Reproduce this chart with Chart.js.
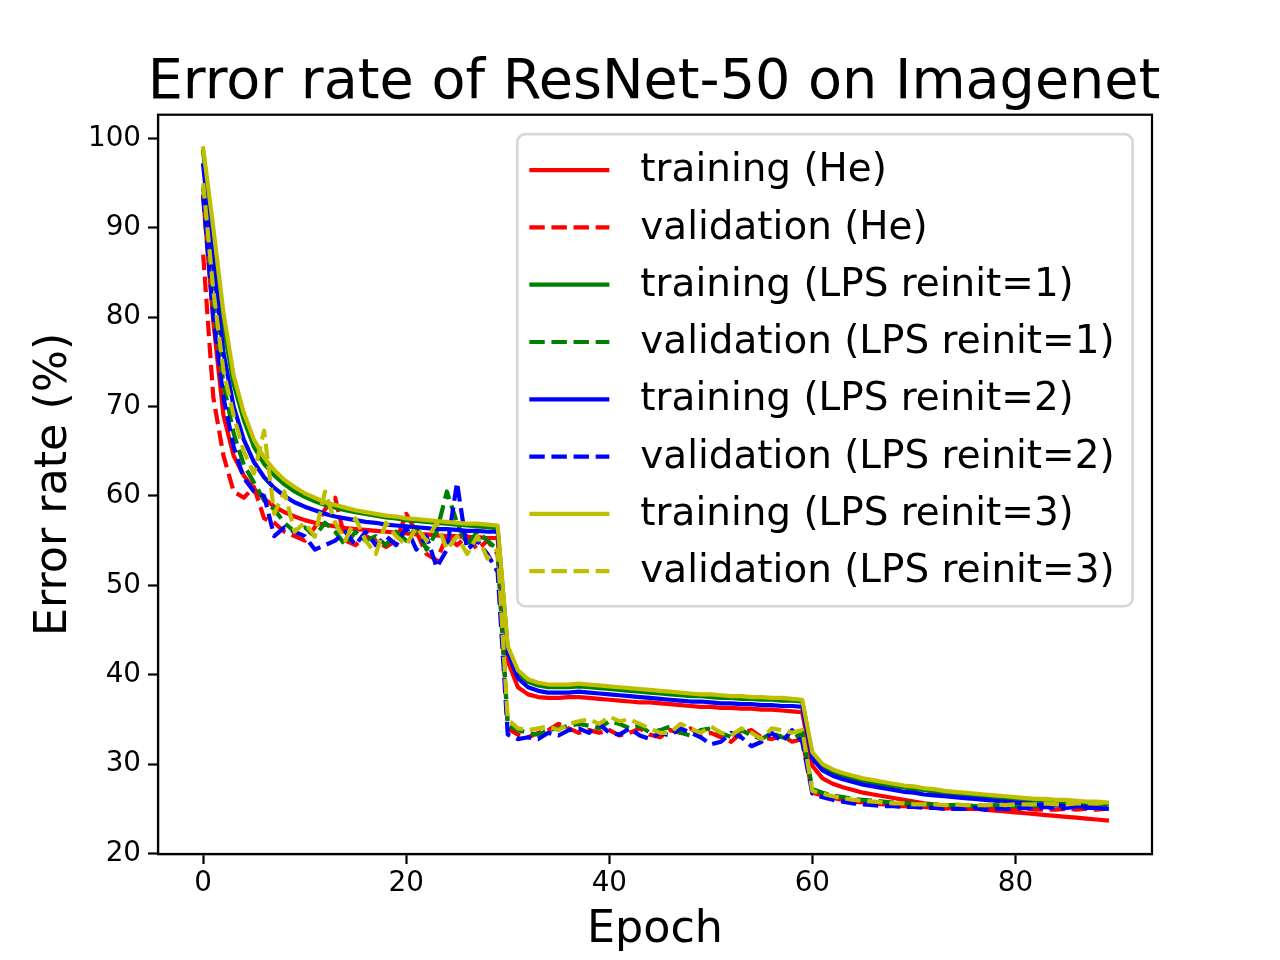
<!DOCTYPE html>
<html>
<head>
<meta charset="utf-8">
<script src="https://cdn.jsdelivr.net/npm/chart.js@4.4.1/dist/chart.umd.min.js"></script>
<style>
  html, body { margin: 0; padding: 0; background: #ffffff; }
  canvas { display: block; }
</style>
</head>
<body>
<canvas id="c" width="1280" height="960"></canvas>
<script>
// ---------- data ----------
const epochs = Array.from({length: 90}, (_, i) => i);
const xTicks = [0, 20, 40, 60, 80];
const yTicks = [20, 30, 40, 50, 60, 70, 80, 90, 100];

const seriesLabels = [
  'training (He)', 'validation (He)',
  'training (LPS reinit=1)', 'validation (LPS reinit=1)',
  'training (LPS reinit=2)', 'validation (LPS reinit=2)',
  'training (LPS reinit=3)', 'validation (LPS reinit=3)'
];

const trainHe = [93.5, 79.5, 69.0, 64.5, 62.3, 60.8, 59.7, 58.8, 58.2, 57.7,
  57.3, 57.0, 56.8, 56.6, 56.4, 56.3, 56.2, 56.1, 56.0, 55.9,
  55.8, 55.7, 55.7, 55.6, 55.5, 55.5, 55.4, 55.4, 55.3, 55.3,
  41.5, 38.6, 37.8, 37.5, 37.4, 37.4, 37.5, 37.5, 37.4, 37.3,
  37.2, 37.1, 37.0, 36.9, 36.9, 36.8, 36.7, 36.6, 36.5, 36.4,
  36.4, 36.3, 36.3, 36.2, 36.2, 36.1, 36.1, 36.0, 35.9, 35.8,
  29.8, 28.4, 27.8, 27.4, 27.1, 26.8, 26.6, 26.4, 26.2, 26.0,
  25.8, 25.6, 25.5, 25.3, 25.2, 25.1, 25.0, 24.9, 24.8, 24.7,
  24.6, 24.5, 24.4, 24.3, 24.2, 24.1, 24.0, 23.9, 23.8, 23.7];

const valHe = [87.0, 71.0, 64.5, 60.5, 59.8, 61.0, 57.5, 57.0, 56.0, 55.5,
  55.0, 56.5, 58.5, 59.8, 55.0, 54.5, 55.5, 55.0, 54.3, 55.0,
  58.0, 56.0, 53.5, 52.8, 55.5, 54.5, 55.5, 54.0, 55.0, 53.5,
  34.0, 33.3, 33.0, 33.5, 33.8, 34.5, 34.0, 33.5, 33.8, 33.5,
  33.8, 33.2, 33.5, 34.0, 33.3, 33.0, 33.8, 33.5, 34.0, 33.2,
  33.5, 33.0, 32.5, 33.5, 33.8, 33.0, 32.8, 33.2, 32.5, 32.8,
  26.8, 26.5, 26.2, 26.0, 25.8, 25.7, 25.6, 25.5, 25.3, 25.3,
  25.2, 25.2, 25.1, 25.0, 25.1, 25.0, 25.0, 24.9, 25.0, 24.9,
  24.9, 25.0, 24.9, 24.9, 24.9, 25.0, 24.9, 25.0, 24.9, 25.0];

const trainL1 = [98.5, 89.0, 79.0, 72.5, 68.5, 65.5, 63.6, 62.3, 61.3, 60.5,
  59.9, 59.4, 59.0, 58.7, 58.4, 58.2, 58.0, 57.8, 57.6, 57.5,
  57.3, 57.2, 57.1, 57.0, 56.9, 56.8, 56.7, 56.6, 56.5, 56.4,
  42.8, 40.2, 39.2, 38.8, 38.6, 38.6, 38.6, 38.7, 38.6, 38.5,
  38.4, 38.3, 38.2, 38.1, 38.0, 37.9, 37.8, 37.7, 37.6, 37.6,
  37.5, 37.4, 37.4, 37.3, 37.3, 37.2, 37.2, 37.1, 37.1, 37.0,
  31.0, 29.7, 29.1, 28.7, 28.4, 28.1, 27.9, 27.7, 27.5, 27.4,
  27.2, 27.1, 26.9, 26.8, 26.7, 26.6, 26.5, 26.4, 26.3, 26.2,
  26.1, 26.0, 26.0, 25.9, 25.8, 25.8, 25.7, 25.6, 25.6, 25.5];

const valL1 = [94.5, 82.0, 72.5, 67.0, 63.5, 61.5, 59.5, 58.5, 57.0, 56.0,
  56.5, 55.5, 57.0, 56.0, 54.5, 56.0, 55.0, 55.5, 54.5, 56.0,
  55.0, 56.5, 54.0, 56.0, 60.5, 57.0, 54.5, 56.0, 55.0, 54.0,
  34.3, 33.8, 33.5, 33.3, 33.8, 34.0, 34.3, 34.5, 34.3, 34.0,
  34.8, 34.5, 34.0, 34.3, 33.5, 33.8, 34.2, 33.5, 33.2, 33.8,
  34.0, 33.5, 33.0, 33.8, 33.2, 32.8, 33.5, 33.0, 32.8, 33.5,
  27.2, 26.8, 26.5, 26.3, 26.1, 26.0, 25.9, 25.8, 25.7, 25.6,
  25.6, 25.5, 25.5, 25.4, 25.4, 25.4, 25.3, 25.3, 25.4, 25.3,
  25.3, 25.4, 25.3, 25.4, 25.5, 25.4, 25.5, 25.4, 25.5, 25.5];

const trainL2 = [97.0, 86.0, 76.0, 70.0, 66.3, 63.8, 62.1, 60.9, 60.0, 59.3,
  58.8, 58.4, 58.0, 57.7, 57.5, 57.3, 57.1, 57.0, 56.8, 56.7,
  56.6, 56.5, 56.4, 56.3, 56.3, 56.2, 56.1, 56.1, 56.0, 56.0,
  42.5, 39.6, 38.6, 38.2, 38.0, 38.0, 38.0, 38.1, 38.0, 37.9,
  37.8, 37.7, 37.6, 37.5, 37.4, 37.3, 37.2, 37.1, 37.0, 37.0,
  36.9, 36.8, 36.8, 36.7, 36.7, 36.6, 36.6, 36.5, 36.5, 36.4,
  30.6, 29.3, 28.7, 28.3, 28.0, 27.7, 27.5, 27.3, 27.1, 26.9,
  26.8, 26.6, 26.5, 26.4, 26.3, 26.2, 26.1, 26.0, 25.9, 25.8,
  25.7, 25.6, 25.5, 25.5, 25.4, 25.3, 25.3, 25.2, 25.1, 25.0];

const valL2 = [93.5, 80.0, 71.0, 65.5, 62.0, 60.5, 60.0, 55.5, 56.5, 56.0,
  55.5, 54.0, 54.5, 55.0, 56.0, 54.5, 56.0, 54.5, 55.5, 54.5,
  56.5, 54.0, 55.5, 52.0, 54.0, 61.5, 54.0, 55.0, 53.5, 51.5,
  33.3, 32.8, 33.0, 32.8, 33.5, 33.2, 33.8, 34.0, 33.5, 34.5,
  33.5, 33.3, 34.0, 33.2, 32.8, 33.5, 33.2, 34.0, 33.5, 33.0,
  32.2, 32.5, 33.5, 33.0, 32.0, 32.5, 33.5, 32.5, 33.8, 32.5,
  26.7, 26.3, 26.0, 25.8, 25.6, 25.5, 25.4, 25.3, 25.3, 25.2,
  25.2, 25.1, 25.1, 25.0, 25.0, 25.0, 25.1, 24.9, 25.0, 25.0,
  25.0, 25.1, 25.0, 25.2, 25.0, 25.1, 25.2, 25.1, 25.1, 25.1];

const trainL3 = [98.9, 90.0, 80.5, 73.5, 69.3, 66.3, 64.3, 62.9, 61.8, 61.0,
  60.3, 59.8, 59.3, 59.0, 58.7, 58.4, 58.2, 58.0, 57.8, 57.7,
  57.5, 57.4, 57.3, 57.2, 57.1, 57.0, 56.9, 56.9, 56.8, 56.7,
  43.2, 40.5, 39.5, 39.1, 38.9, 38.9, 38.9, 39.0, 38.9, 38.8,
  38.7, 38.6, 38.5, 38.4, 38.3, 38.2, 38.1, 38.0, 37.9, 37.8,
  37.8, 37.7, 37.6, 37.6, 37.5, 37.5, 37.4, 37.4, 37.3, 37.2,
  31.3, 30.0, 29.4, 29.0, 28.7, 28.4, 28.2, 28.0, 27.8, 27.6,
  27.5, 27.3, 27.2, 27.0, 26.9, 26.8, 26.7, 26.6, 26.5, 26.4,
  26.3, 26.2, 26.1, 26.1, 26.0, 26.0, 25.9, 25.8, 25.8, 25.7];

const valL3 = [95.0, 83.0, 74.0, 69.0, 65.0, 62.5, 67.3, 58.0, 60.5, 56.0,
  57.0, 55.5, 60.5, 57.0, 55.0, 57.5, 55.0, 53.5, 57.0, 55.5,
  54.5, 56.5, 55.0, 57.0, 54.0, 55.5, 53.5, 55.5, 53.0, 54.0,
  35.0, 34.0, 33.8, 34.0, 34.2, 33.8, 34.5, 34.8, 35.0, 34.5,
  35.3, 34.8, 35.0, 34.5, 34.0, 33.5, 33.5, 34.5, 34.0, 33.5,
  34.2, 33.5, 33.2, 34.0, 33.5, 32.8, 34.0, 33.8, 33.5, 33.8,
  27.0, 26.7, 26.4, 26.2, 26.0, 25.9, 25.8, 25.7, 25.6, 25.6,
  25.5, 25.5, 25.5, 25.4, 25.5, 25.4, 25.4, 25.4, 25.5, 25.4,
  25.5, 25.5, 25.5, 25.6, 25.5, 25.5, 25.6, 25.6, 25.6, 25.7];

// ---------- styling ----------
const FONT = "'DejaVu Sans', 'Liberation Sans', sans-serif";
const LW = 4.2;
const DASH = [15.4, 6.7];
const colors = ['#ff0000', '#ff0000', '#008000', '#008000', '#0000ff', '#0000ff', '#bfbf00', '#bfbf00'];
const allSeries = [trainHe, valHe, trainL1, valL1, trainL2, valL2, trainL3, valL3];

const datasets = allSeries.map((arr, i) => ({
  label: seriesLabels[i],
  data: arr.map((v, k) => ({x: epochs[k], y: v})),
  borderColor: colors[i],
  backgroundColor: colors[i],
  borderWidth: LW,
  borderDash: (i % 2 === 1) ? DASH : [],
  borderJoinStyle: 'round',
  borderCapStyle: (i % 2 === 1) ? 'butt' : 'square',
  pointRadius: 0,
  pointHoverRadius: 0,
  tension: 0,
  fill: false,
  order: allSeries.length - i
}));

// frame around plot area (matplotlib spines)
const framePlugin = {
  id: 'frame',
  afterDatasetsDraw(chart) {
    const {ctx, chartArea: a} = chart;
    ctx.save();
    ctx.strokeStyle = '#000';
    ctx.lineWidth = 2.2;
    ctx.strokeRect(a.left, a.top, a.right - a.left, a.bottom - a.top);
    ctx.restore();
  }
};

// legend box inside the axes, upper right
const legendPlugin = {
  id: 'mplLegend',
  afterDraw(chart) {
    const {ctx, chartArea: a} = chart;
    const fs = 38.9;
    const rowH = 57.3;
    const padL = 12, handleLen = 80, textPad = 31, padR = 18;
    const padTop = 36 - rowH / 2, padBot = 35 - rowH / 2;
    ctx.save();
    ctx.font = fs + 'px ' + FONT;
    const ds = chart.data.datasets;
    let maxW = 0;
    ds.forEach(d => { maxW = Math.max(maxW, ctx.measureText(d.label).width); });
    const w = padL + handleLen + textPad + maxW + padR;
    const h = padTop + rowH * ds.length + padBot;
    const right = a.right - 19.4;
    const top = a.top + 19.4;
    const left = right - w;
    // box
    ctx.beginPath();
    ctx.roundRect(left, top, w, h, 8);
    ctx.fillStyle = 'rgba(255,255,255,0.8)';
    ctx.fill();
    ctx.strokeStyle = 'rgba(204,204,204,0.8)';
    ctx.lineWidth = 2.6;
    ctx.stroke();
    // entries
    ds.forEach((d, i) => {
      const cy = top + padTop + rowH * (i + 0.5);
      ctx.beginPath();
      ctx.setLineDash(d.borderDash || []);
      ctx.lineCap = 'butt';
      ctx.strokeStyle = d.borderColor;
      ctx.lineWidth = LW;
      ctx.moveTo(left + padL, cy);
      ctx.lineTo(left + padL + handleLen, cy);
      ctx.stroke();
      ctx.setLineDash([]);
      ctx.fillStyle = '#000';
      ctx.textBaseline = 'middle';
      ctx.textAlign = 'left';
      ctx.fillText(d.label, left + padL + handleLen + textPad, cy + 1);
    });
    ctx.restore();
  }
};

new Chart(document.getElementById('c'), {
  type: 'line',
  data: { datasets },
  plugins: [framePlugin, legendPlugin],
  options: {
    responsive: false,
    animation: false,
    devicePixelRatio: 1,
    events: [],
    layout: { padding: { left: 28, right: 0, top: 0, bottom: 0 } },
    plugins: {
      legend: { display: false },
      tooltip: { enabled: false },
      title: {
        display: true,
        text: 'Error rate of ResNet-50 on Imagenet',
        color: '#000',
        font: { family: FONT, size: 55.6, weight: 'normal', lineHeight: 1.2 },
        padding: { top: 50, bottom: -2 }
      }
    },
    scales: {
      x: {
        type: 'linear',
        min: -4.45,
        max: 93.45,
        afterFit(scale) { scale.height = 106; },
        afterBuildTicks(scale) { scale.ticks = xTicks.map(v => ({value: v})); },
        grid: { display: true, drawOnChartArea: false, drawTicks: true, tickLength: 10, tickColor: '#000', tickWidth: 2.2 },
        border: { display: true, color: '#000', width: 2.2 },
        ticks: { color: '#000', font: { family: FONT, size: 27.8 }, padding: 3, maxRotation: 0, autoSkip: false },
        title: {
          display: true, text: 'Epoch', color: '#000',
          font: { family: FONT, size: 44.4, lineHeight: 1.2 },
          padding: { top: 0, bottom: 3 }
        }
      },
      y: {
        type: 'linear',
        position: 'left',
        min: 19.94,
        max: 102.66,
        afterFit(scale) { scale.width = 130; },
        afterBuildTicks(scale) { scale.ticks = yTicks.map(v => ({value: v})); },
        grid: { display: true, drawOnChartArea: false, drawTicks: true, tickLength: 10, tickColor: '#000', tickWidth: 2.2 },
        border: { display: true, color: '#000', width: 2.2 },
        ticks: { color: '#000', font: { family: FONT, size: 27.8 }, padding: 7, autoSkip: false },
        title: {
          display: true, text: 'Error rate (%)', color: '#000',
          font: { family: FONT, size: 44.4, lineHeight: 1.2 },
          padding: { top: 0, bottom: 0 }
        }
      },
      yRightSpace: {
        type: 'linear',
        position: 'right',
        min: 0,
        max: 1,
        afterFit(scale) { scale.width = 128; },
        grid: { display: false, drawOnChartArea: false, drawTicks: false },
        border: { display: false },
        ticks: { display: false }
      }
    }
  }
});
</script>
</body>
</html>
